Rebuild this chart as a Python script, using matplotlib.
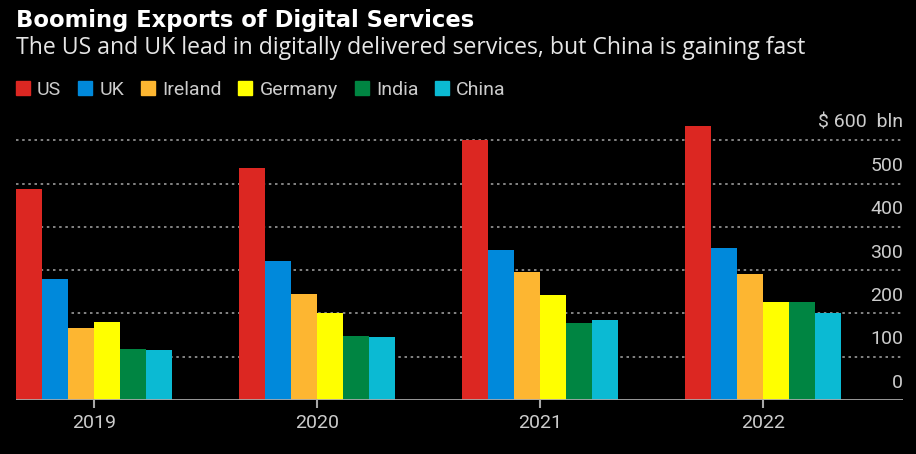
import matplotlib
matplotlib.use("Agg")
import matplotlib.pyplot as plt
from matplotlib.patches import Rectangle
import numpy as np

plt.rcParams['font.family'] = ['Roboto', 'DejaVu Sans']

years = ['2019', '2020', '2021', '2022']
countries = ['US', 'UK', 'Ireland', 'Germany', 'India', 'China']
colors = ['#dc2722', '#0089db', '#fdb631', '#ffff00', '#008542', '#0bbad3']

us = [487, 536, 601, 634]
uk = [280, 321, 346, 351]
ireland = [166, 244, 295, 291]
germany = [180, 202, 242, 227]
india = [118, 148, 178, 227]
china = [115, 146, 185, 201]
values = [us, uk, ireland, germany, india, china]

yticks = [0, 100, 200, 300, 400, 500, 600]

W, H = 916, 454
bg = '#000000'
grey = '#cccccc'

fig = plt.figure(figsize=(W / 100, H / 100), dpi=100, facecolor=bg)
ax = fig.add_axes([16 / W, 54 / H, 887 / W, 290 / H])
ax.set_facecolor(bg)
r = fig.canvas.get_renderer()


def fit_width(t, px):
    # scale font so the text spans about px pixels
    bb = t.get_window_extent(renderer=r)
    t.set_fontsize(t.get_fontsize() * px / bb.width)


x = np.arange(len(years))
w = 0.1166
for i, vals in enumerate(values):
    ax.bar(x + (i - 2.5) * w, vals, width=w, color=colors[i], zorder=3)

# dotted gridlines, solid baseline
for v in yticks[1:]:
    ax.axhline(v, color='#9a9a9a', lw=1.2, ls=(0, (1.5, 2.2)), zorder=1)
ax.axhline(0, color='#a8a8a8', lw=2, zorder=4)

ax.set_xlim(-0.35, 3.628)
ax.set_ylim(0, 670)

for s in ax.spines.values():
    s.set_visible(False)
ax.set_yticks([])
ax.set_xticks(x)
ax.set_xticklabels(years)
ax.tick_params(axis='x', colors='#a8a8a8', length=6, width=1.5, pad=4, labelsize=14, labelcolor=grey)

# y labels sit above the gridlines, right side
for v in yticks:
    lab = '$ 600  bln' if v == 600 else str(v)
    ax.annotate(lab, xy=(1, v), xycoords=('axes fraction', 'data'), xytext=(0, 9),
                textcoords='offset points', ha='right', va='baseline', color=grey, fontsize=14)

title = fig.text(16 / W, 1 - 27 / H, 'Booming Exports of Digital Services', color='white',
                 fontsize=15, fontweight='bold', va='baseline', ha='left',
                 family=['DejaVu Sans'])
fit_width(title, 458)
sub = fig.text(16 / W, 1 - 54 / H,
               'The US and UK lead in digitally delivered services, but China is gaining fast',
               color='#e6e6e6', fontsize=15, va='baseline', ha='left', family=['Open Sans'])
fit_width(sub, 790)

# legend row
xpos = 16
for name, c in zip(countries, colors):
    fig.patches.append(Rectangle((xpos / W, 1 - 95 / H), 14 / W, 14 / H,
                                 transform=fig.transFigure, color=c))
    t = fig.text((xpos + 21) / W, 1 - 95 / H, name, color=grey, fontsize=14,
                 va='baseline', ha='left')
    bb = t.get_window_extent(renderer=r)
    xpos = bb.x1 + 17

fig.savefig('out.png', dpi=100, facecolor=bg)
